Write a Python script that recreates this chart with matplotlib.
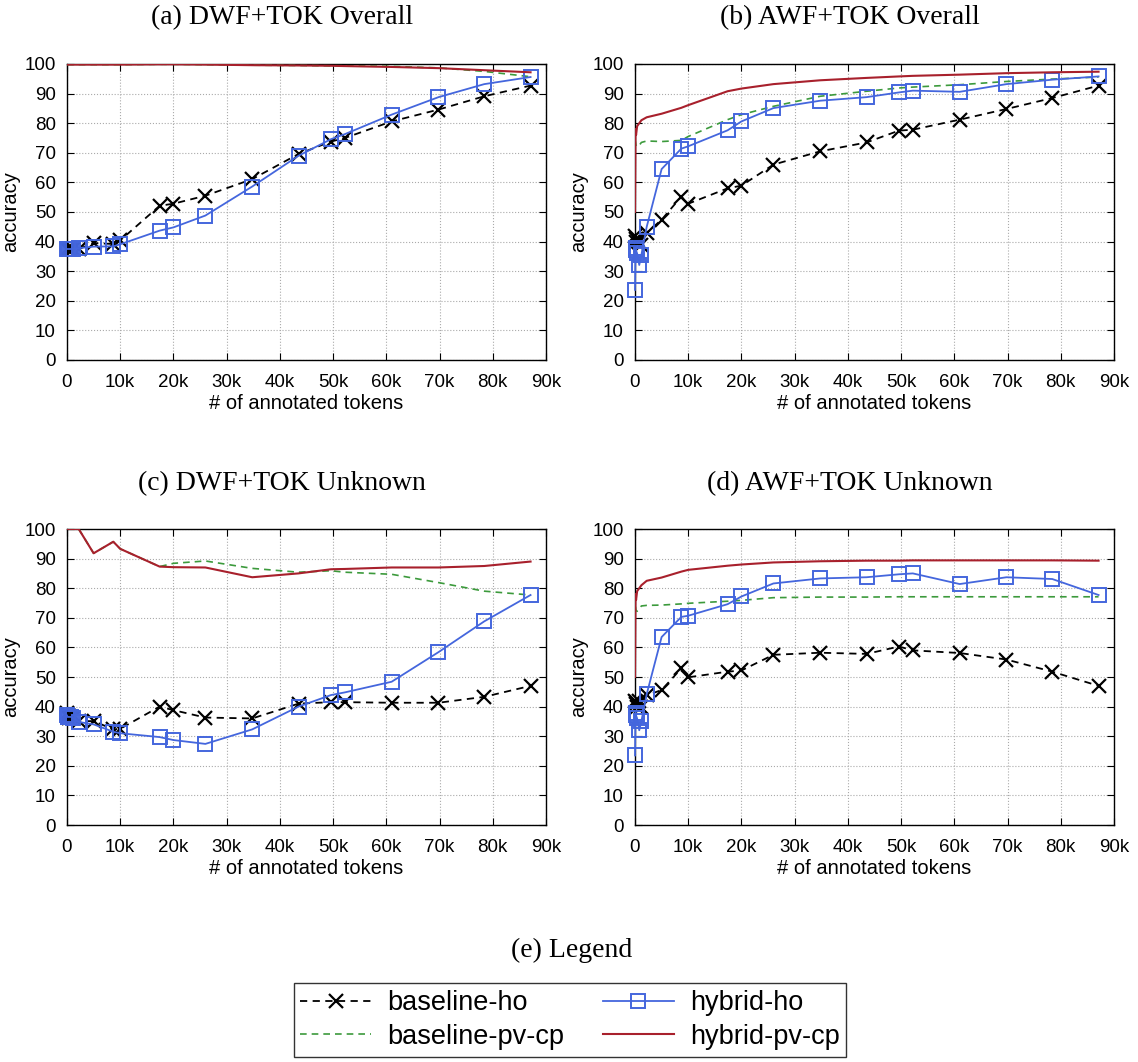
import numpy as np
import matplotlib
matplotlib.use("Agg")
from matplotlib import pyplot as plt

# token counts shared by every run
tokens = [0, 100, 200, 400, 800, 1200, 2200, 5000, 8700, 10000, 17400, 20000,
          26000, 34800, 43500, 49600, 52200, 61000, 69800, 78400, 87100]

# (a) DWF+TOK Overall
a_base_ho = [37.5, 37.5, 37.5, 37.5, 37.5, 37.5, 37.5, 39.5, 39.2, 40.4, 52.1, 52.8,
             55.5, 61.1, 69.6, 73.8, 75.0, 80.6, 84.6, 89.1, 92.7]
a_base_pv = [99.8, 99.8, 99.8, 99.8, 99.8, 99.8, 99.8, 99.8, 99.8, 99.8, 99.9, 99.9,
             99.8, 99.6, 99.5, 99.4, 99.4, 99.2, 98.7, 97.5, 95.7]
a_hyb_ho = [37.5, 37.5, 37.5, 37.5, 37.5, 37.5, 37.8, 38.3, 38.4, 39.1, 43.7, 44.8,
            48.8, 58.6, 69.0, 74.6, 76.3, 82.9, 88.8, 93.2, 95.6]
a_hyb_pv = [99.8, 99.8, 99.8, 99.8, 99.8, 99.8, 99.8, 99.8, 99.8, 99.8, 99.9, 99.9,
            99.8, 99.6, 99.5, 99.4, 99.3, 99.0, 98.6, 97.9, 97.2]

# (b) AWF+TOK Overall
b_base_ho = [42.0, 41.0, 40.0, 41.0, 40.0, 39.0, 43.0, 47.4, 55.2, 52.8, 58.0, 58.9,
             66.0, 70.5, 73.5, 77.5, 77.8, 81.2, 84.8, 88.5, 92.7]
b_base_pv = [74.5, 73.5, 72.5, 72.0, 72.5, 73.5, 74.0, 73.8, 74.2, 75.5, 81.2, 82.9,
             85.7, 89.1, 90.8, 91.9, 92.2, 93.0, 94.1, 94.9, 95.6]
b_hyb_ho = [23.7, 38.0, 37.0, 36.0, 32.1, 35.5, 45.0, 64.5, 71.4, 72.2, 77.6, 80.6,
            85.1, 87.6, 88.8, 90.4, 91.0, 90.6, 93.2, 94.7, 95.8]
b_hyb_pv = [50.0, 78.0, 76.0, 79.0, 80.0, 81.0, 82.0, 83.2, 85.2, 86.1, 90.8, 91.7,
            93.2, 94.5, 95.3, 95.8, 96.0, 96.4, 96.9, 97.2, 97.4]

# (c) DWF+TOK Unknown
c_base_ho = [38.0, 37.0, 36.5, 36.0, 36.5, 36.0, 35.1, 35.1, 32.3, 32.5, 40.0, 38.8,
             36.3, 36.0, 41.0, 41.5, 41.5, 41.3, 41.3, 43.3, 47.0]
c_base_pv = [100.0, 100.0, 100.0, 100.0, 100.0, 100.0, 100.0, 91.8, 95.7, 93.3, 87.3, 88.4,
             89.2, 86.7, 85.4, 85.9, 85.4, 84.7, 81.9, 79.0, 77.7]
c_hyb_ho = [37.0, 36.5, 36.5, 36.5, 36.5, 36.0, 34.8, 34.0, 31.5, 31.0, 29.7, 28.7,
            27.4, 32.3, 40.0, 43.9, 44.8, 48.4, 58.4, 68.8, 77.7]
c_hyb_pv = [100.0, 100.0, 100.0, 100.0, 100.0, 100.0, 100.0, 91.8, 95.7, 93.3, 87.3, 87.1,
            87.0, 83.7, 85.0, 86.4, 86.5, 87.0, 87.0, 87.5, 89.0]

# (d) AWF+TOK Unknown
d_base_ho = [42.0, 41.5, 41.0, 40.0, 42.0, 40.0, 43.8, 45.6, 52.9, 49.9, 51.8, 52.2,
             57.5, 58.2, 57.8, 60.3, 59.0, 58.1, 55.9, 51.8, 47.0]
d_base_pv = [74.0, 73.5, 72.5, 72.2, 73.0, 74.0, 74.2, 74.3, 74.7, 74.9, 75.6, 75.9,
             76.8, 77.0, 77.0, 77.1, 77.1, 77.1, 77.1, 77.1, 77.1]
d_hyb_ho = [23.5, 38.0, 37.0, 36.0, 32.0, 35.1, 44.2, 63.5, 70.3, 70.7, 74.6, 77.2,
            81.6, 83.3, 83.7, 84.7, 85.0, 81.4, 83.7, 83.1, 77.7]
d_hyb_pv = [50.0, 78.0, 76.0, 79.0, 80.0, 81.0, 82.5, 83.6, 85.6, 86.2, 87.6, 88.0,
            88.7, 89.1, 89.3, 89.3, 89.4, 89.4, 89.4, 89.4, 89.3]

titles = ["(a) DWF+TOK Overall", "(b) AWF+TOK Overall",
          "(c) DWF+TOK Unknown", "(d) AWF+TOK Unknown"]
series_names = ["baseline-ho", "baseline-pv-cp", "hybrid-ho", "hybrid-pv-cp"]
xticks = [0, 10000, 20000, 30000, 40000, 50000, 60000, 70000, 80000, 90000]
xticklabels = ["0", "10k", "20k", "30k", "40k", "50k", "60k", "70k", "80k", "90k"]

panels = [
	(a_base_ho, a_base_pv, a_hyb_ho, a_hyb_pv),
	(b_base_ho, b_base_pv, b_hyb_ho, b_hyb_pv),
	(c_base_ho, c_base_pv, c_hyb_ho, c_hyb_pv),
	(d_base_ho, d_base_pv, d_hyb_ho, d_hyb_pv),
]

W, H = 1138, 1062
SANS = "Liberation Sans"
SERIF = "Liberation Serif"

C_BLACK = "#000000"
C_GREEN = "#3c9a3c"
C_BLUE = "#4466dd"
C_RED = "#a8202c"


def px_rect(l, t, r, b):
	return [l / W, 1 - b / H, (r - l) / W, (b - t) / H]


# pixel boxes of the four plot areas (left, top, right, bottom)
boxes = [(67, 64, 546, 360), (635, 64, 1114, 360),
         (67, 529, 546, 825), (635, 529, 1114, 825)]
title_pos = [(282, 18), (850, 18), (282, 484), (850, 484)]

fig = plt.figure(figsize=(W / 100, H / 100), dpi=100)

handles = None
for i, (bho, bpv, hho, hpv) in enumerate(panels):
	ax = fig.add_axes(px_rect(*boxes[i]))
	l1, = ax.plot(tokens, bho, color=C_BLACK, ls=(0, (4, 3)), lw=1.3, marker="x",
	              ms=10, mew=1.6, clip_on=False, zorder=3)
	l2, = ax.plot(tokens, bpv, color=C_GREEN, ls=(0, (4, 3)), lw=1.2, zorder=3)
	l3, = ax.plot(tokens, hho, color=C_BLUE, ls="-", lw=1.3, marker="s", ms=10,
	              mfc="none", mec=C_BLUE, mew=1.4, clip_on=False, zorder=4)
	l4, = ax.plot(tokens, hpv, color=C_RED, ls="-", lw=1.5, zorder=4)
	handles = [l1, l2, l3, l4]

	ax.set_xlim(0, 90000)
	ax.set_ylim(0, 100)
	ax.set_xticks(xticks)
	ax.set_xticklabels(xticklabels)
	ax.set_yticks(range(0, 101, 10))
	ax.tick_params(direction="in", length=5, width=0.8, top=True, right=True,
	               labelsize=13.5)
	ax.tick_params(axis="x", pad=10)
	ax.tick_params(axis="y", pad=8)
	for lab in ax.get_xticklabels() + ax.get_yticklabels():
		lab.set_family(SANS)
	ax.grid(True, color="#aaaaaa", ls=":", lw=0.8)
	for sp in ax.spines.values():
		sp.set_linewidth(1.0)
	ax.set_ylabel("accuracy", family=SANS, fontsize=14.5, labelpad=3)
	ax.set_xlabel("# of annotated tokens", family=SANS, fontsize=14.5, labelpad=2)

	tx, ty = title_pos[i]
	fig.text(tx / W, 1 - ty / H, titles[i], family=SERIF, fontsize=20,
	         ha="center", va="center")

fig.text(572 / W, 1 - 950 / H, "(e) Legend", family=SERIF, fontsize=20,
         ha="center", va="center")

leg = fig.legend(handles, series_names, loc="center", ncol=2,
                 bbox_to_anchor=(570 / W, 1 - 1020 / H),
                 prop={"family": SANS, "size": 19.5}, frameon=True, fancybox=False,
                 handlelength=2.6, labelspacing=0.28, columnspacing=1.45,
                 borderpad=0.25, handletextpad=0.6)
leg.get_frame().set_edgecolor("#000000")
leg.get_frame().set_linewidth(1.0)

fig.savefig("out.png", dpi=100)
